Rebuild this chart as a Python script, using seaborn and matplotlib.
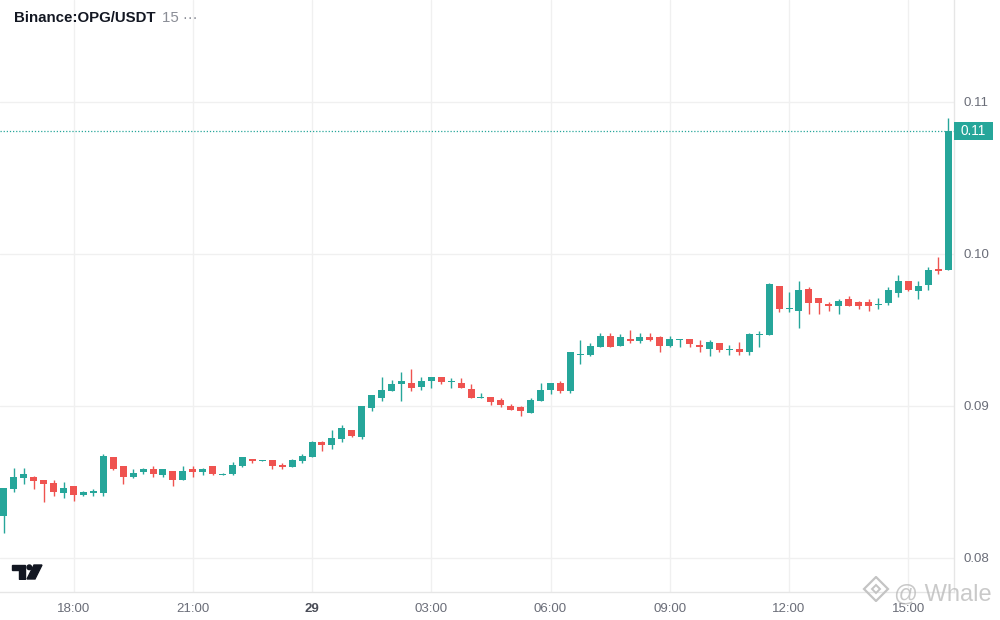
import numpy as np
import pandas as pd
import matplotlib
matplotlib.use("Agg")
import matplotlib.pyplot as plt
import matplotlib.transforms as mtransforms
from matplotlib.patches import Polygon, Circle, Rectangle
import seaborn as sns

# 15 minute candles, 16:15 (28th) -> 16:00 (29th)
open_ = [0.08276, 0.08454, 0.08528, 0.08533, 0.08513, 0.08493, 0.08430, 0.08474, 0.08417, 0.08430,
         0.08430, 0.08664, 0.08605, 0.08535, 0.08566, 0.08586, 0.08548, 0.08572, 0.08513, 0.08586,
         0.08568, 0.08605, 0.08548, 0.08555, 0.08607, 0.08651, 0.08640, 0.08645, 0.08612, 0.08601,
         0.08640, 0.08666, 0.08763, 0.08745, 0.08785, 0.08842, 0.08796, 0.08989, 0.09055, 0.09101,
         0.09145, 0.09151, 0.09125, 0.09164, 0.09191, 0.09160, 0.09151, 0.09112, 0.09055, 0.09059,
         0.09039, 0.09000, 0.08993, 0.08954, 0.09033, 0.09105, 0.09151, 0.09099, 0.09337, 0.09336,
         0.09388, 0.09461, 0.09395, 0.09441, 0.09428, 0.09454, 0.09454, 0.09395, 0.09436, 0.09441,
         0.09401, 0.09375, 0.09414, 0.09370, 0.09375, 0.09355, 0.09469, 0.09467, 0.09789, 0.09640,
         0.09625, 0.09770, 0.09711, 0.09671, 0.09658, 0.09704, 0.09684, 0.09684, 0.09667, 0.09678,
         0.09743, 0.09822, 0.09757, 0.09796, 0.09901, 0.09895]
high = [0.08459, 0.08592, 0.08592, 0.08541, 0.08513, 0.08513, 0.08500, 0.08474, 0.08441, 0.08454,
        0.08684, 0.08664, 0.08605, 0.08586, 0.08592, 0.08605, 0.08586, 0.08572, 0.08605, 0.08605,
        0.08594, 0.08605, 0.08561, 0.08632, 0.08664, 0.08651, 0.08645, 0.08645, 0.08625, 0.08651,
        0.08684, 0.08770, 0.08770, 0.08842, 0.08875, 0.08842, 0.09000, 0.09072, 0.09191, 0.09171,
        0.09224, 0.09243, 0.09191, 0.09191, 0.09191, 0.09184, 0.09184, 0.09145, 0.09086, 0.09059,
        0.09053, 0.09013, 0.09000, 0.09053, 0.09151, 0.09151, 0.09164, 0.09355, 0.09434, 0.09414,
        0.09480, 0.09480, 0.09474, 0.09500, 0.09480, 0.09480, 0.09461, 0.09461, 0.09441, 0.09441,
        0.09434, 0.09434, 0.09414, 0.09401, 0.09421, 0.09480, 0.09493, 0.09809, 0.09789, 0.09750,
        0.09822, 0.09783, 0.09711, 0.09684, 0.09704, 0.09724, 0.09691, 0.09704, 0.09711, 0.09783,
        0.09862, 0.09822, 0.09822, 0.09914, 0.09980, 0.10895]
low = [0.08166, 0.08436, 0.08489, 0.08454, 0.08368, 0.08410, 0.08397, 0.08377, 0.08410, 0.08410,
       0.08410, 0.08579, 0.08489, 0.08528, 0.08555, 0.08535, 0.08535, 0.08476, 0.08513, 0.08535,
       0.08548, 0.08548, 0.08548, 0.08548, 0.08601, 0.08627, 0.08640, 0.08588, 0.08588, 0.08601,
       0.08627, 0.08666, 0.08704, 0.08719, 0.08765, 0.08796, 0.08785, 0.08969, 0.09035, 0.09101,
       0.09035, 0.09099, 0.09105, 0.09118, 0.09145, 0.09118, 0.09118, 0.09055, 0.09055, 0.09007,
       0.08993, 0.08974, 0.08934, 0.08954, 0.09033, 0.09079, 0.09086, 0.09086, 0.09276, 0.09329,
       0.09388, 0.09388, 0.09395, 0.09414, 0.09414, 0.09428, 0.09355, 0.09388, 0.09388, 0.09388,
       0.09355, 0.09329, 0.09355, 0.09336, 0.09336, 0.09336, 0.09388, 0.09467, 0.09618, 0.09618,
       0.09513, 0.09605, 0.09605, 0.09625, 0.09605, 0.09658, 0.09638, 0.09625, 0.09638, 0.09664,
       0.09717, 0.09757, 0.09704, 0.09763, 0.09868, 0.09895]
close = [0.08459, 0.08533, 0.08553, 0.08509, 0.08489, 0.08436, 0.08461, 0.08417, 0.08434, 0.08443,
         0.08671, 0.08586, 0.08535, 0.08559, 0.08586, 0.08555, 0.08586, 0.08513, 0.08572, 0.08568,
         0.08586, 0.08555, 0.08555, 0.08612, 0.08664, 0.08638, 0.08645, 0.08607, 0.08601, 0.08645,
         0.08671, 0.08763, 0.08743, 0.08789, 0.08855, 0.08803, 0.09000, 0.09072, 0.09105, 0.09145,
         0.09164, 0.09118, 0.09164, 0.09191, 0.09158, 0.09164, 0.09118, 0.09055, 0.09059, 0.09026,
         0.09007, 0.08974, 0.08967, 0.09039, 0.09105, 0.09151, 0.09099, 0.09355, 0.09342, 0.09395,
         0.09461, 0.09388, 0.09454, 0.09428, 0.09454, 0.09434, 0.09395, 0.09441, 0.09441, 0.09408,
         0.09388, 0.09421, 0.09368, 0.09375, 0.09355, 0.09474, 0.09474, 0.09803, 0.09638, 0.09645,
         0.09763, 0.09678, 0.09678, 0.09658, 0.09691, 0.09658, 0.09658, 0.09658, 0.09671, 0.09763,
         0.09822, 0.09763, 0.09789, 0.09895, 0.09888, 0.10809]

time_ticks = [7, 19, 31, 43, 55, 67, 79, 91]
time_labels = ["18:00", "21:00", "29", "03:00", "06:00", "09:00", "12:00", "15:00"]
price_ticks = [0.08, 0.09, 0.10, 0.11]

UP = "#26a69a"
DOWN = "#ef5350"
GRID = "#f0f0f0"
TEXT = "#6a6d78"

sns.set_theme(style="white")
plt.rcParams["font.family"] = ["Liberation Sans", "DejaVu Sans"]

df = pd.DataFrame({"open": open_, "high": high, "low": low, "close": close})
df["idx"] = np.arange(len(df))
df["color"] = np.where(df["close"] >= df["open"], UP, DOWN)
one_px = 0.01 / 152
df["bottom"] = df[["open", "close"]].min(axis=1)
df["height"] = (df["close"] - df["open"]).abs().clip(lower=one_px)

fig = plt.figure(figsize=(10, 6.2), dpi=100)
ax = fig.add_axes([0, 28 / 620, 0.954, 592 / 620])

# grid
for t in time_ticks:
    ax.axvline(t, color=GRID, lw=1, zorder=0)
for p in price_ticks:
    ax.axhline(p, color=GRID, lw=1, zorder=0)

# candles
ax.vlines(df["idx"], df["low"], df["high"], colors=df["color"], lw=1.0, zorder=2)
ax.bar(df["idx"], df["height"], bottom=df["bottom"], width=0.7,
       color=df["color"], linewidth=0, zorder=3)

last = close[-1]
ax.axhline(last, color=UP, lw=0.9, ls=(0, (1, 1.5)), zorder=1)

ax.set_xlim(-0.4, 95.6)
ax.set_ylim(0.07776, 0.11671)

ax.yaxis.tick_right()
ax.set_yticks(price_ticks)
ax.set_yticklabels([f"{p:.2f}" for p in price_ticks])
ax.set_xticks(time_ticks)
ax.set_xticklabels(time_labels)
ax.tick_params(axis="y", length=0, pad=7, labelsize=9.5, labelcolor=TEXT)
ax.tick_params(axis="x", length=0, pad=8, labelsize=9.5, labelcolor=TEXT)
for lab in ax.get_xticklabels():
    if lab.get_text() == "29":
        lab.set_fontweight("bold")
        lab.set_color("#4a4d57")

for side in ["left", "top"]:
    ax.spines[side].set_visible(False)
for side in ["right", "bottom"]:
    ax.spines[side].set_color("#e6e6e6")
    ax.spines[side].set_linewidth(1)

# last price tag on the scale
trans = mtransforms.blended_transform_factory(ax.transAxes, ax.transData)
tag_w = 39 / 954
tag_h = 18 * one_px
ax.add_patch(Rectangle((1.0, last - tag_h / 2), tag_w, tag_h, transform=trans,
                       facecolor=UP, edgecolor="none", clip_on=False, zorder=5))
ax.text(1.0 + tag_w / 2, last, f"{last:.2f}", transform=trans, ha="center",
        va="center", color="white", fontsize=9.8, zorder=6, clip_on=False)

# header
fig.text(14 / 1000, 1 - 18 / 620, "Binance:OPG/USDT", fontsize=10.8,
         fontweight="bold", color="#131722", va="center")
fig.text(162 / 1000, 1 - 18 / 620, "15 \u00b7\u00b7\u00b7", fontsize=10.8,
         color="#8a8d96", va="center")

# TradingView logo
lax = fig.add_axes([11 / 1000, 1 - 580 / 620, 32 / 1000, 16 / 620])
lax.set_xlim(11, 43)
lax.set_ylim(580, 564)
lax.axis("off")
lax.add_patch(Polygon([(12, 565), (25, 565), (25, 579), (18.5, 579), (18.5, 569.5), (12, 569.5)],
                      closed=True, color="#131722"))
lax.add_patch(Circle((29.3, 567.3), 2.3, color="#131722"))
lax.add_patch(Polygon([(34, 565), (42, 565), (35, 579), (27, 579)], closed=True, color="#131722"))

# watermark
fig.text(894 / 1000, 1 - 594 / 620, "@ Whale", fontsize=17, color="#b8b8b8",
         alpha=0.75, va="center")
wax = fig.add_axes([862 / 1000, 1 - 602 / 620, 28 / 1000, 26 / 620])
wax.set_xlim(862, 890)
wax.set_ylim(602, 576)
wax.axis("off")
wax.patch.set_alpha(0)
wm = "#c4c4c4"
wax.add_patch(Polygon([(876, 577), (888, 589), (876, 601), (864, 589)], closed=True,
                      fill=False, edgecolor=wm, lw=1.6))
wax.add_patch(Polygon([(876, 585), (880, 589), (876, 593), (872, 589)], closed=True,
                      fill=False, edgecolor=wm, lw=1.4))

fig.savefig("out.png", dpi=100, facecolor="white")
